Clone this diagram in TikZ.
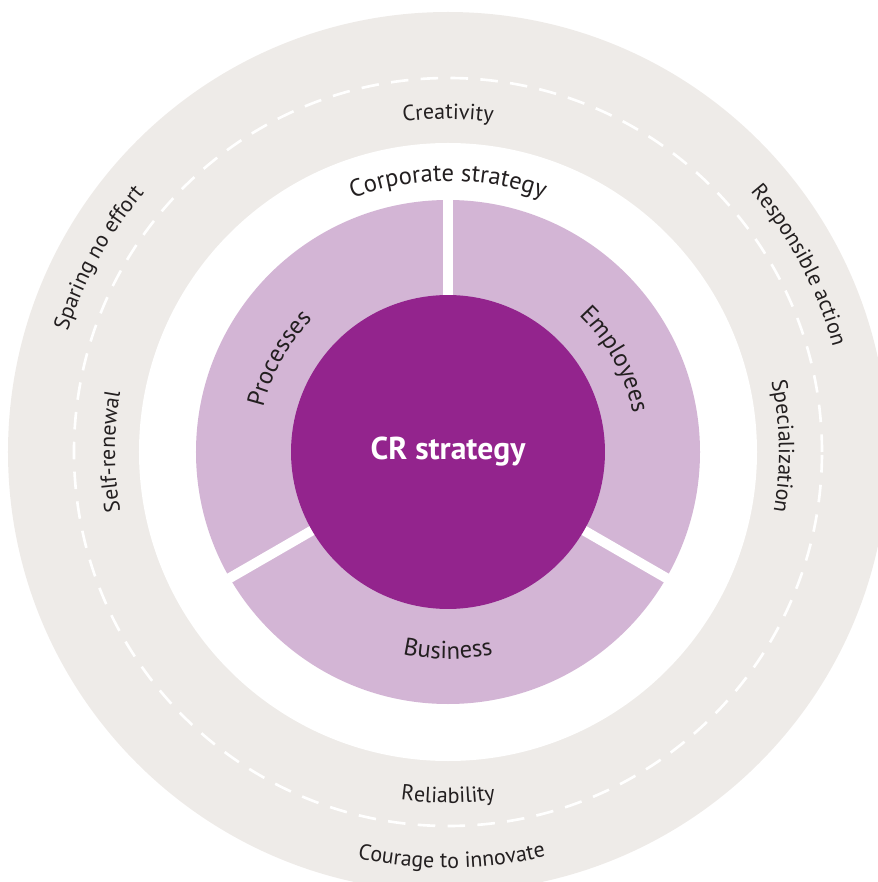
\documentclass[tikz,border=0pt]{standalone}
\usepackage{fontspec}
\setmainfont{PT Sans}
\usetikzlibrary{decorations.text}

\definecolor{ringgray}{HTML}{EEEBE8}
\definecolor{pillar}{HTML}{D3B5D5}
\definecolor{corepurple}{HTML}{93248D}
\definecolor{labeltext}{HTML}{231F20}

\begin{document}
\begin{tikzpicture}[
    x=0.02cm, y=0.02cm,
    valuering/.style={fill=ringgray},
    pillarring/.style={fill=pillar},
    gap/.style={white,line width=0.2cm},
    core/.style={circle,fill=corepurple,text=white,font=\fontsize{18}{20}\selectfont\bfseries,minimum size=6.28cm,inner sep=0pt},
    arclabel/.style={decorate,decoration={text along path,text align=center,text color=labeltext,text={|\fontsize{12.5}{15}\selectfont|#1}}},
    pillarlabel/.style={decorate,decoration={text along path,text align=center,text color=labeltext,text={|\fontsize{14}{16}\selectfont|#1}}}
]
    \useasboundingbox (-448,-430) rectangle (429,452);

    % Define rings
    \fill[valuering] (0,0) circle (440);
    \fill[white] (0,0) circle (309);
    \draw[white,line width=1.5pt,dash pattern=on 10pt off 7pt] (0,0) circle (374);
    \fill[pillarring] (0,0) circle (252);
    \foreach \a in {90,210,330}
        \draw[gap] (0,0) -- (\a:262);

    % Centre node
    \node[core] (cr) at (0,0) {CR strategy};

    % Outer values
    \path[arclabel={Sparing no effort}] (191:399) arc[start angle=191,end angle=111,radius=399];
    \path[arclabel={Responsible action}] (68:399) arc[start angle=68,end angle=-12,radius=399];
    \path[arclabel={Courage to innovate}] (230:416) arc[start angle=230,end angle=311,radius=416];

    % Inner values
    \path[arclabel={Creativity}] (130:333) arc[start angle=130,end angle=50,radius=333];
    \path[arclabel={Specialization}] (41:331) arc[start angle=41,end angle=-39,radius=331];
    \path[arclabel={Self-renewal}] (220:333) arc[start angle=220,end angle=140,radius=333];
    \path[arclabel={Reliability}] (230:351) arc[start angle=230,end angle=310,radius=351];

    % Strategy ring
    \path[pillarlabel={Corporate strategy}] (130:271) arc[start angle=130,end angle=50,radius=271];
    \path[pillarlabel={Processes}] (191:190) arc[start angle=191,end angle=111,radius=190];
    \path[pillarlabel={Employees}] (69:189) arc[start angle=69,end angle=-11,radius=189];
    \path[pillarlabel={Business}] (230:207) arc[start angle=230,end angle=310,radius=207];
\end{tikzpicture}
\end{document}
